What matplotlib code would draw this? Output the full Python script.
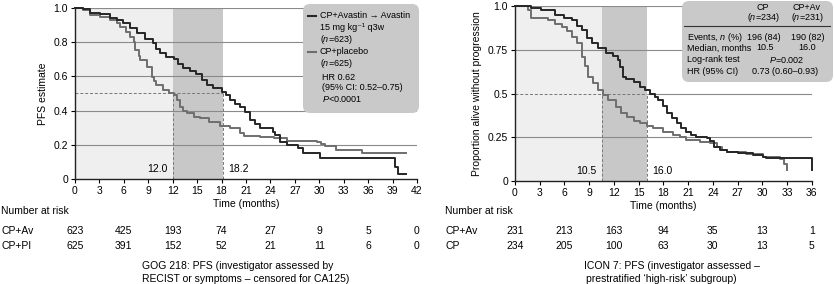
import matplotlib
matplotlib.use('Agg')
import matplotlib.pyplot as plt
import matplotlib.transforms as mtransforms
from matplotlib.patches import FancyBboxPatch

plt.rcParams['font.family'] = ['Liberation Sans', 'DejaVu Sans']
plt.rcParams['mathtext.fontset'] = 'custom'
plt.rcParams['mathtext.rm'] = 'Liberation Sans'
plt.rcParams['mathtext.it'] = 'Liberation Sans:italic'

# GOG 218 (left) - Kaplan-Meier curves
gog_av_t = [0, 1.0, 1.8, 3.1, 4.3, 5.1, 5.9, 6.8, 7.6, 8.6, 9.6, 10.0, 10.4, 11.2, 12.1, 12.7,
            13.3, 14.1, 14.9, 15.6, 16.2, 17.0, 18.0, 18.6, 19.0, 19.7, 20.3, 20.9, 21.5, 22.1,
            22.7, 24.3, 24.6, 25.2, 26.0, 27.4, 28.0, 30.1, 39.3, 39.7, 40.7]
gog_av_s = [1.0, 0.99, 0.967, 0.96, 0.938, 0.925, 0.909, 0.88, 0.85, 0.82, 0.792, 0.76, 0.734,
            0.715, 0.70, 0.67, 0.646, 0.63, 0.612, 0.58, 0.549, 0.53, 0.51, 0.49, 0.462, 0.44,
            0.423, 0.39, 0.345, 0.32, 0.297, 0.275, 0.26, 0.22, 0.20, 0.18, 0.151, 0.122, 0.073,
            0.031, 0.031]
gog_pl_t = [0, 1.0, 1.8, 3.1, 4.3, 5.1, 5.5, 6.3, 6.8, 7.2, 7.4, 7.8, 8.0, 8.8, 9.4, 9.7, 10.0,
            10.8, 11.5, 12.1, 12.5, 12.9, 13.3, 13.7, 14.6, 15.4, 16.5, 17.8, 19.0, 20.3, 20.7,
            22.7, 24.4, 26.0, 29.7, 30.2, 30.7, 32.1, 35.2, 40.7]
gog_pl_s = [1.0, 0.985, 0.957, 0.945, 0.928, 0.91, 0.889, 0.86, 0.83, 0.80, 0.753, 0.72, 0.696,
            0.656, 0.598, 0.57, 0.549, 0.52, 0.505, 0.49, 0.46, 0.423, 0.40, 0.384, 0.365, 0.355,
            0.335, 0.31, 0.297, 0.268, 0.255, 0.248, 0.239, 0.225, 0.219, 0.205, 0.194, 0.171,
            0.155, 0.155]

# ICON 7 (right)
icon_av_t = [0, 2.0, 3.2, 4.9, 5.9, 6.9, 7.5, 8.1, 8.7, 9.3, 10.1, 11.1, 11.9, 12.5, 12.8, 13.1,
             13.5, 14.4, 15.2, 15.8, 16.4, 17.0, 17.4, 17.9, 18.4, 19.0, 19.6, 20.2, 20.8, 21.4,
             22.0, 23.3, 23.7, 24.1, 24.9, 25.7, 27.0, 28.9, 30.1, 30.5, 36.0]
icon_av_s = [1.0, 0.99, 0.98, 0.95, 0.935, 0.92, 0.89, 0.864, 0.82, 0.788, 0.76, 0.73, 0.715,
             0.69, 0.65, 0.597, 0.585, 0.568, 0.54, 0.52, 0.50, 0.48, 0.464, 0.43, 0.388, 0.36,
             0.33, 0.305, 0.282, 0.265, 0.254, 0.244, 0.23, 0.196, 0.18, 0.168, 0.16, 0.149,
             0.14, 0.13, 0.065]
icon_cp_t = [0, 1.6, 2.0, 4.0, 4.9, 5.7, 6.3, 6.9, 7.5, 8.1, 8.5, 8.9, 9.5, 10.1, 10.7, 11.3,
             12.3, 12.9, 13.6, 14.4, 15.2, 16.0, 16.8, 18.0, 19.2, 20.0, 20.8, 22.4, 23.7, 24.5,
             25.1, 25.7, 28.0, 30.1, 32.2, 32.6, 33.0]
icon_cp_s = [1.0, 0.979, 0.931, 0.92, 0.90, 0.883, 0.86, 0.826, 0.79, 0.712, 0.66, 0.597, 0.56,
             0.521, 0.49, 0.464, 0.425, 0.388, 0.368, 0.345, 0.33, 0.315, 0.302, 0.28, 0.263,
             0.25, 0.235, 0.225, 0.215, 0.196, 0.18, 0.168, 0.155, 0.14, 0.124, 0.10, 0.063]

risk_times_gog = [0, 6, 12, 18, 24, 30, 36, 42]
risk_gog_av = [623, 425, 193, 74, 27, 9, 5, 0]
risk_gog_pl = [625, 391, 152, 52, 21, 11, 6, 0]
risk_times_icon = [0, 6, 12, 18, 24, 30, 36]
risk_icon_av = [231, 213, 163, 94, 35, 13, 1]
risk_icon_cp = [234, 205, 100, 63, 30, 13, 5]

gog_medians = [12.0, 18.2]
icon_medians = [10.5, 16.0]

DARK = '#262626'
GREY = '#6e6e6e'
LIGHT_BG = '#efefef'
DARK_BG = '#c8c8c8'
GRID = '#8a8a8a'
FS = 7.5

W, H = 834, 284
fig = plt.figure(figsize=(W / 100, H / 100), dpi=100)


def fy(py):
    return 1 - py / H


def setup_panel(rect, xmax, yticks, yticklabels, grid_y, medians, ylabel):
    ax = fig.add_axes(rect)
    ax.set_xlim(0, xmax)
    ax.set_ylim(0, 1.0)
    ax.axvspan(0, medians[0], color=LIGHT_BG, lw=0, zorder=0)
    ax.axvspan(medians[0], medians[1], color=DARK_BG, lw=0, zorder=0)
    ax.hlines(grid_y, 0, xmax, color=GRID, lw=0.8, zorder=1)
    # median reference lines
    ax.hlines(0.5, 0, medians[1], color='#777777', lw=0.7, ls=(0, (3, 2)), zorder=1)
    ax.vlines(medians, 0, 0.5, color='#777777', lw=0.7, ls=(0, (3, 2)), zorder=1)
    ax.text(medians[0] - 0.6, 0.06, f'{medians[0]:.1f}', ha='right', va='center', fontsize=FS)
    ax.text(medians[1] + 0.6, 0.06, f'{medians[1]:.1f}', ha='left', va='center', fontsize=FS)
    for s in ['top', 'right']:
        ax.spines[s].set_visible(False)
    for s in ['left', 'bottom']:
        ax.spines[s].set_linewidth(1.0)
        ax.spines[s].set_color('#222222')
    ax.set_xticks(range(0, xmax + 1, 3))
    ax.set_yticks(yticks)
    ax.set_yticklabels(yticklabels)
    ax.tick_params(labelsize=FS, length=3, width=0.8, pad=2)
    ax.set_xlabel('Time (months)', fontsize=FS, labelpad=2)
    ax.set_ylabel(ylabel, fontsize=FS, labelpad=4)
    ax.set_facecolor('none')
    return ax


ax1 = setup_panel([75 / W, 1 - 179.3 / H, 342 / W, 171.7 / H], 42,
                  [0, 0.2, 0.4, 0.6, 0.8, 1.0], ['0', '0.2', '0.4', '0.6', '0.8', '1.0'],
                  [0.2, 0.4, 0.6, 0.8, 1.0], gog_medians, 'PFS estimate')
ax1.step(gog_pl_t, gog_pl_s, where='post', color=GREY, lw=1.4, zorder=3, clip_on=False)
ax1.step(gog_av_t, gog_av_s, where='post', color=DARK, lw=1.4, zorder=4, clip_on=False)

ax2 = setup_panel([515 / W, 1 - 181 / H, 296.7 / W, 174.7 / H], 36,
                  [0, 0.25, 0.5, 0.75, 1.0], ['0', '0.25', '0.5', '0.75', '1.0'],
                  [0.25, 0.75, 1.0], icon_medians, 'Proportion alive without progression')
ax2.hlines(0.5, icon_medians[1], 36, color=GRID, lw=0.8, zorder=1)
ax2.step(icon_cp_t, icon_cp_s, where='post', color=GREY, lw=1.4, zorder=3, clip_on=False)
ax2.step(icon_av_t, icon_av_s, where='post', color=DARK, lw=1.4, zorder=4, clip_on=False)

# number at risk tables
for ax, times, rows, names, x0 in [
        (ax1, risk_times_gog, [risk_gog_av, risk_gog_pl], ['CP+Av', 'CP+PI'], 1),
        (ax2, risk_times_icon, [risk_icon_av, risk_icon_cp], ['CP+Av', 'CP'], 445)]:
    tr = mtransforms.blended_transform_factory(ax.transData, fig.transFigure)
    fig.text(x0 / W, fy(211), 'Number at risk', fontsize=FS, va='center')
    for row, name, ypx in zip(rows, names, [231, 246]):
        fig.text(x0 / W, fy(ypx), name, fontsize=FS, va='center')
        for t, n in zip(times, row):
            ax.text(t, fy(ypx), str(n), transform=tr, fontsize=FS, ha='center', va='center',
                    clip_on=False)

fig.text(142 / W, fy(266), 'GOG 218: PFS (investigator assessed by', fontsize=FS, va='center')
fig.text(142 / W, fy(279), 'RECIST or symptoms \u2013 censored for CA125)', fontsize=FS, va='center')
fig.text(584 / W, fy(266), 'ICON 7: PFS (investigator assessed \u2013', fontsize=FS, va='center')
fig.text(586 / W, fy(279), 'prestratified \u2018high-risk\u2019 subgroup)', fontsize=FS, va='center')

# overlay in pixel coordinates for the two info boxes
ov = fig.add_axes([0, 0, 1, 1])
ov.set_xlim(0, W)
ov.set_ylim(H, 0)
ov.axis('off')

LFS = 6.5
ov.add_patch(FancyBboxPatch((303, 4), 116, 109, boxstyle='round,pad=0,rounding_size=7',
                            fc='#c9c9c9', ec='none'))
ov.plot([308, 316], [16, 16], color=DARK, lw=1.5)
ov.plot([308, 316], [52, 52], color=GREY, lw=1.5)
ov.text(320, 16, 'CP+Avastin \u2192 Avastin', fontsize=LFS, va='center')
ov.text(320, 27, '15 mg kg\u207b\u00b9 q3w', fontsize=LFS, va='center')
ov.text(320, 39, '($n$=623)', fontsize=LFS, va='center')
ov.text(320, 52, 'CP+placebo', fontsize=LFS, va='center')
ov.text(320, 63, '($n$=625)', fontsize=LFS, va='center')
ov.text(322, 77, 'HR 0.62', fontsize=LFS, va='center')
ov.text(322, 88, '(95% CI: 0.52\u20130.75)', fontsize=LFS, va='center')
ov.text(322, 99, '$P$<0.0001', fontsize=LFS, va='center')

ov.add_patch(FancyBboxPatch((682, 1), 151, 81, boxstyle='round,pad=0,rounding_size=7',
                            fc='#c9c9c9', ec='none'))
ov.plot([684, 830], [26, 26], color='#333333', lw=0.8)
ov.text(763, 7, 'CP', fontsize=LFS, ha='center', va='center')
ov.text(763, 18, '($n$=234)', fontsize=LFS, ha='center', va='center')
ov.text(807, 7, 'CP+Av', fontsize=LFS, ha='center', va='center')
ov.text(807, 18, '($n$=231)', fontsize=LFS, ha='center', va='center')
ov.text(687, 37, 'Events, $n$ (%)', fontsize=LFS, va='center')
ov.text(764, 37, '196 (84)', fontsize=LFS, ha='center', va='center')
ov.text(808, 37, '190 (82)', fontsize=LFS, ha='center', va='center')
ov.text(687, 48, 'Median, months', fontsize=LFS, va='center')
ov.text(765, 48, '10.5', fontsize=LFS, ha='center', va='center')
ov.text(807, 48, '16.0', fontsize=LFS, ha='center', va='center')
ov.text(687, 60, 'Log-rank test', fontsize=LFS, va='center')
ov.text(787, 60, '$P$=0.002', fontsize=LFS, ha='center', va='center')
ov.text(687, 72, 'HR (95% CI)', fontsize=LFS, va='center')
ov.text(785, 72, '0.73 (0.60\u20130.93)', fontsize=LFS, ha='center', va='center')

fig.savefig('out.png', dpi=100)
